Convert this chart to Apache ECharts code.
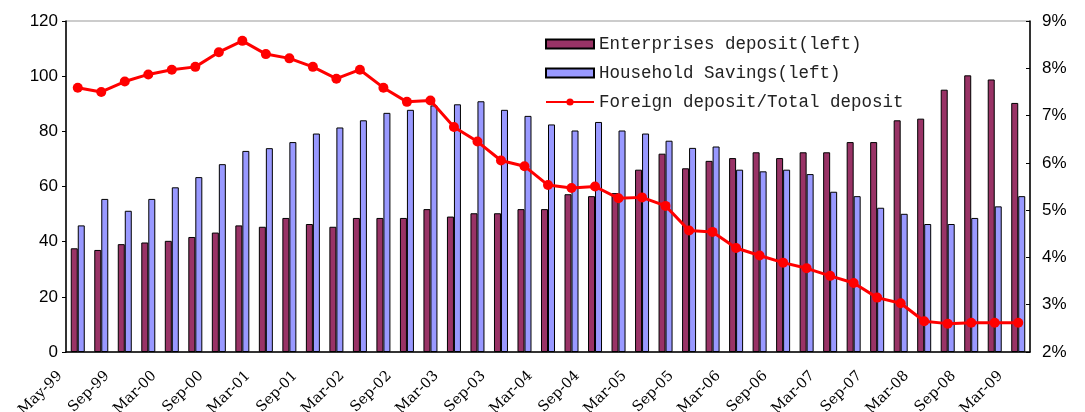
<!DOCTYPE html>
<html>
<head>
<meta charset="utf-8">
<script src="https://cdn.jsdelivr.net/npm/echarts@6/dist/echarts.min.js"></script>
<style>
  html, body { margin: 0; padding: 0; background: #fff; }
  #chart { width: 1085px; height: 412px; }
</style>
</head>
<body>
<div id="chart"></div>
<script>
// quarterly points, every second one is labelled
var categories = [
  'May-99', 'Jun-99', 'Sep-99', 'Dec-99', 'Mar-00', 'Jun-00', 'Sep-00', 'Dec-00',
  'Mar-01', 'Jun-01', 'Sep-01', 'Dec-01', 'Mar-02', 'Jun-02', 'Sep-02', 'Dec-02',
  'Mar-03', 'Jun-03', 'Sep-03', 'Dec-03', 'Mar-04', 'Jun-04', 'Sep-04', 'Dec-04',
  'Mar-05', 'Jun-05', 'Sep-05', 'Dec-05', 'Mar-06', 'Jun-06', 'Sep-06', 'Dec-06',
  'Mar-07', 'Jun-07', 'Sep-07', 'Dec-07', 'Mar-08', 'Jun-08', 'Sep-08', 'Dec-08',
  'Mar-09'
];

var enterprises = [
  37.6, 37.0, 39.1, 39.7, 40.3, 41.7, 43.3, 45.9, 45.4, 48.6,
  46.4, 45.4, 48.6, 48.6, 48.6, 51.8, 49.1, 50.3, 50.3, 51.8,
  51.8, 57.2, 56.5, 57.6, 66.1, 71.9, 66.6, 69.3, 70.3, 72.4,
  70.3, 72.4, 72.4, 76.1, 76.1, 84.0, 84.6, 95.1, 100.3, 98.8,
  90.3
];

var household = [
  45.9, 55.5, 51.2, 55.5, 59.7, 63.4, 68.1, 72.9, 73.9, 76.1,
  79.2, 81.4, 84.0, 86.7, 87.8, 89.4, 89.8, 90.9, 87.8, 85.6,
  82.5, 80.3, 83.4, 80.3, 79.2, 76.6, 74.0, 74.5, 66.1, 65.5,
  66.1, 64.5, 58.1, 56.5, 52.3, 50.1, 46.4, 46.4, 48.6, 52.8,
  56.5
];

// percent
var foreignShare = [
  7.59, 7.50, 7.72, 7.87, 7.97, 8.03, 8.34, 8.58, 8.30, 8.21,
  8.03, 7.78, 7.97, 7.59, 7.29, 7.32, 6.76, 6.45, 6.05, 5.93,
  5.53, 5.47, 5.50, 5.25, 5.27, 5.09, 4.57, 4.54, 4.20, 4.04,
  3.89, 3.77, 3.61, 3.46, 3.15, 3.03, 2.65, 2.60, 2.62, 2.62,
  2.62
];

var chart = echarts.init(document.getElementById('chart'));
chart.setOption({
  animation: false,
  backgroundColor: '#fff',
  legend: {
    orient: 'vertical',
    left: 540,
    top: 30,
    itemWidth: 48,
    itemHeight: 9,
    itemGap: 11,
    textStyle: {
      fontFamily: 'Liberation Mono',
      fontSize: 17.5,
      color: '#222'
    },
    data: [
      { name: 'Enterprises deposit(left)', icon: 'rect' },
      { name: 'Household Savings(left)', icon: 'rect' },
      'Foreign deposit/Total deposit'
    ]
  },
  grid: {
    left: 66,
    right: 55,
    top: 21,
    bottom: 60,
    outerBoundsMode: 'none',
    show: true,
    borderColor: '#999',
    borderWidth: 1
  },
  xAxis: {
    type: 'category',
    data: categories,
    axisLine: { lineStyle: { color: '#000', width: 1.5 } },
    axisTick: { inside: true, length: 4, interval: 0, lineStyle: { color: '#000' } },
    axisLabel: {
      interval: 1,
      rotate: 45,
      margin: 4,
      padding: [0, 25, 26, 0],
      fontFamily: 'DejaVu Serif',
      fontSize: 14.5,
      color: '#000'
    }
  },
  yAxis: [
    {
      type: 'value',
      min: 0,
      max: 120,
      interval: 20,
      splitLine: { show: false },
      axisLine: { show: true, lineStyle: { color: '#000', width: 1.5 } },
      axisTick: { show: true, length: 4, lineStyle: { color: '#000' } },
      axisLabel: {
        margin: 8,
        fontFamily: 'Liberation Sans',
        fontSize: 17,
        color: '#000'
      }
    },
    {
      type: 'value',
      min: 2,
      max: 9,
      interval: 1,
      splitLine: { show: false },
      axisLine: { show: true, lineStyle: { color: '#000', width: 1.5 } },
      axisTick: { show: true, inside: true, length: 4, lineStyle: { color: '#000' } },
      axisLabel: {
        margin: 12,
        formatter: '{value}%',
        fontFamily: 'Liberation Sans',
        fontSize: 17,
        color: '#000'
      }
    }
  ],
  series: [
    {
      name: 'Enterprises deposit(left)',
      type: 'bar',
      barWidth: 7,
      barGap: '0%',
      itemStyle: { color: '#993366', borderColor: '#000', borderWidth: 1 },
      data: enterprises
    },
    {
      name: 'Household Savings(left)',
      type: 'bar',
      barWidth: 7,
      barGap: '0%',
      itemStyle: { color: '#9999ff', borderColor: '#000', borderWidth: 1 },
      data: household
    },
    {
      name: 'Foreign deposit/Total deposit',
      type: 'line',
      yAxisIndex: 1,
      symbol: 'circle',
      symbolSize: 10,
      lineStyle: { color: '#ff0000', width: 3 },
      itemStyle: { color: '#ff0000' },
      data: foreignShare
    }
  ]
});
</script>
</body>
</html>
